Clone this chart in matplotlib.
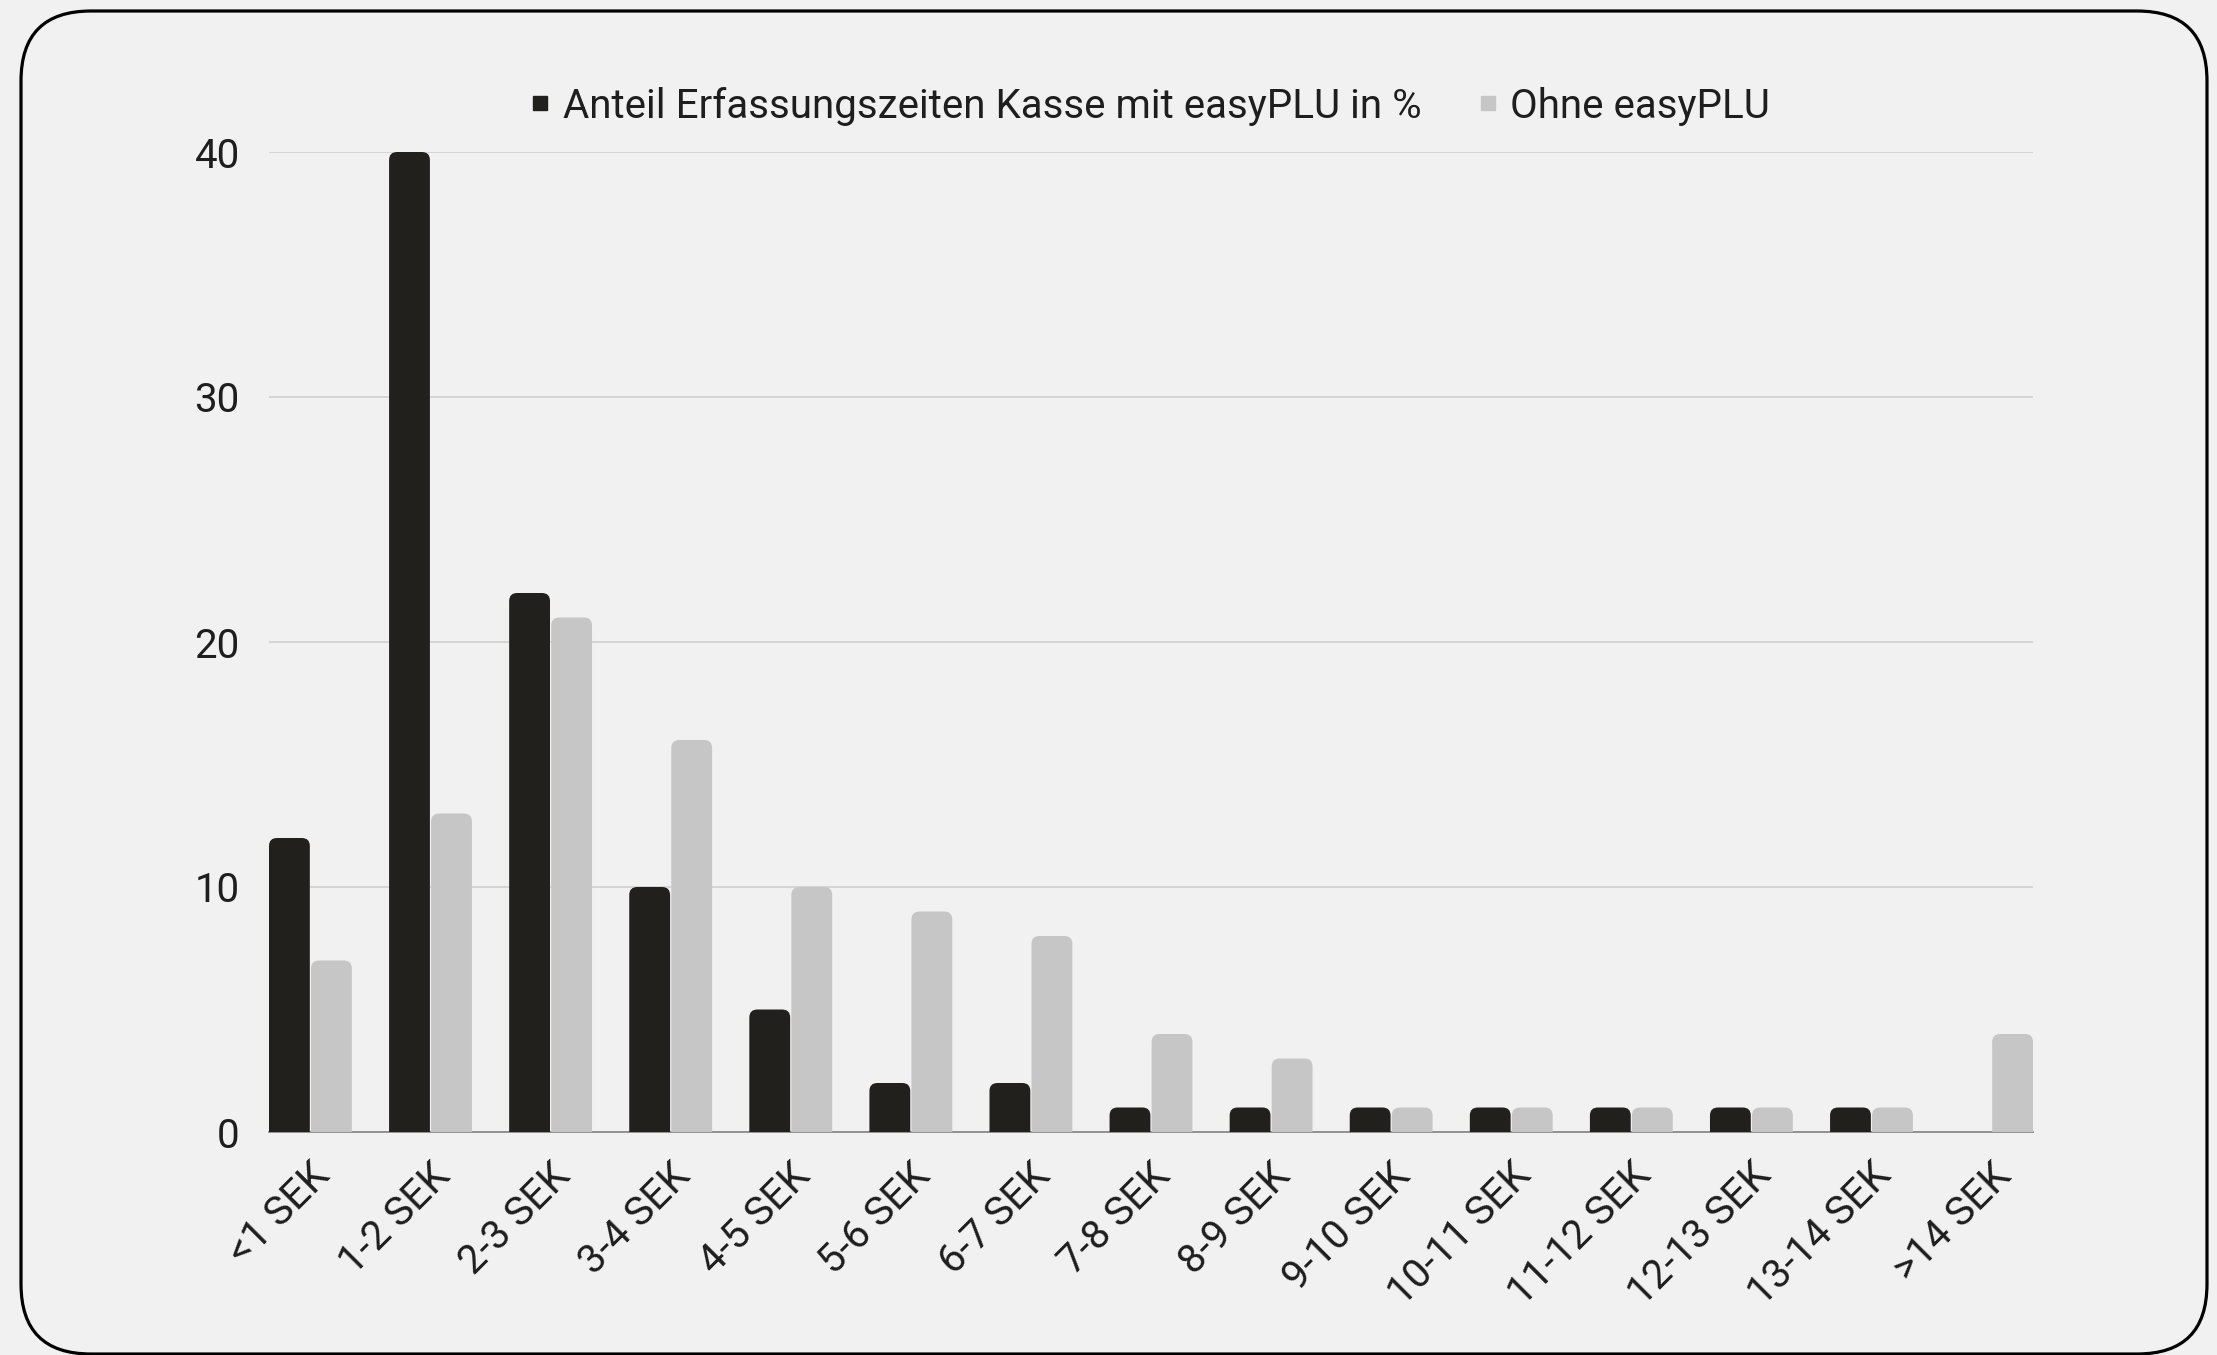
import matplotlib
matplotlib.use("Agg")
import matplotlib.pyplot as plt
from matplotlib.patches import FancyBboxPatch
from matplotlib.transforms import IdentityTransform, ScaledTranslation
from matplotlib.lines import Line2D
import numpy as np

categories = ["<1 SEK", "1-2 SEK", "2-3 SEK", "3-4 SEK", "4-5 SEK", "5-6 SEK", "6-7 SEK",
              "7-8 SEK", "8-9 SEK", "9-10 SEK", "10-11 SEK", "11-12 SEK", "12-13 SEK",
              "13-14 SEK", ">14 SEK"]
mit_easyplu = [12, 40, 22, 10, 5, 2, 2, 1, 1, 1, 1, 1, 1, 1, 0]
ohne_easyplu = [7, 13, 21, 16, 10, 9, 8, 4, 3, 1, 1, 1, 1, 1, 4]
series_names = ["Anteil Erfassungszeiten Kasse mit easyPLU in %", "Ohne easyPLU"]
y_ticks = [0, 10, 20, 30, 40]

plt.rcParams['font.family'] = ['Roboto', 'DejaVu Sans']

BG = "#f1f1f1"
DARK = "#21201c"
LIGHT = "#c6c6c6"
TXT = "#1e1e1e"

W, H = 2217, 1355
fig = plt.figure(figsize=(W / 100, H / 100), dpi=100, facecolor=BG)

# rounded frame (pixel coords)
frame = FancyBboxPatch((21, 1), 2186, 1343, boxstyle="round,pad=0,rounding_size=70",
                       transform=IdentityTransform(), facecolor="none", edgecolor="black",
                       linewidth=2.3, zorder=5)
fig.patches.append(frame)

ax_l, ax_r, ax_b, ax_t = 269, 2033, 1355 - 1132, 1355 - 152
ax = fig.add_axes([ax_l / W, ax_b / H, (ax_r - ax_l) / W, (ax_t - ax_b) / H])
ax.set_facecolor("none")

x = np.arange(len(categories))
bw = 0.34
off = 0.175
ax.set_xlim(-off - bw / 2, len(categories) - 1 + off + bw / 2)
ax.set_ylim(0, 40)

bars1 = ax.bar(x - off, mit_easyplu, bw, color=DARK, visible=False)
bars2 = ax.bar(x + off, ohne_easyplu, bw, color=LIGHT, visible=False)

# pixel scales
px_per_x = (ax_r - ax_l) / (ax.get_xlim()[1] - ax.get_xlim()[0])
px_per_y = (ax_t - ax_b) / (ax.get_ylim()[1] - ax.get_ylim()[0])
r_px = 8
r_x = r_px / px_per_x
aspect = px_per_x / px_per_y

for bars, col in ((bars1, DARK), (bars2, LIGHT)):
    for rect in bars:
        h = rect.get_height()
        if h <= 0:
            continue
        p = FancyBboxPatch((rect.get_x(), -1), rect.get_width(), h + 1,
                           boxstyle=f"round,pad=0,rounding_size={r_x}",
                           mutation_aspect=aspect, facecolor=col, edgecolor="none",
                           zorder=3)
        ax.add_patch(p)

ax.set_yticks(y_ticks)
ax.set_yticklabels([str(v) for v in y_ticks])
ax.grid(axis="y", color="#d0d0d0", linewidth=1.2, zorder=1)
ax.set_axisbelow(True)
for s in ["left", "right", "top"]:
    ax.spines[s].set_visible(False)
ax.spines["bottom"].set_color("#8a8a8a")
ax.spines["bottom"].set_linewidth(1.3)
ax.spines["bottom"].set_zorder(2)

ax.tick_params(axis="y", length=0, pad=21, labelsize=29, labelcolor=TXT)
ax.tick_params(axis="x", length=0, pad=27, labelsize=29, labelcolor=TXT)
ax.set_xticks(x)
ax.set_xticklabels(categories, rotation=45, ha="right", va="center", rotation_mode="anchor")
shift = ScaledTranslation(13 / 100, 0, fig.dpi_scale_trans)
for lab in ax.get_xticklabels():
    lab.set_transform(lab.get_transform() + shift)

handles = [Line2D([], [], marker="s", linestyle="none", markersize=9.5, color=DARK),
           Line2D([], [], marker="s", linestyle="none", markersize=9.5, color=LIGHT)]
leg = fig.legend(handles, series_names, loc="center", bbox_to_anchor=(1150 / W, 1 - 106 / H),
                 ncol=2, frameon=False, fontsize=29, handlelength=0.5, handletextpad=0.3,
                 columnspacing=1.4, labelcolor=TXT)

fig.savefig("out.png", dpi=100, facecolor=BG)
